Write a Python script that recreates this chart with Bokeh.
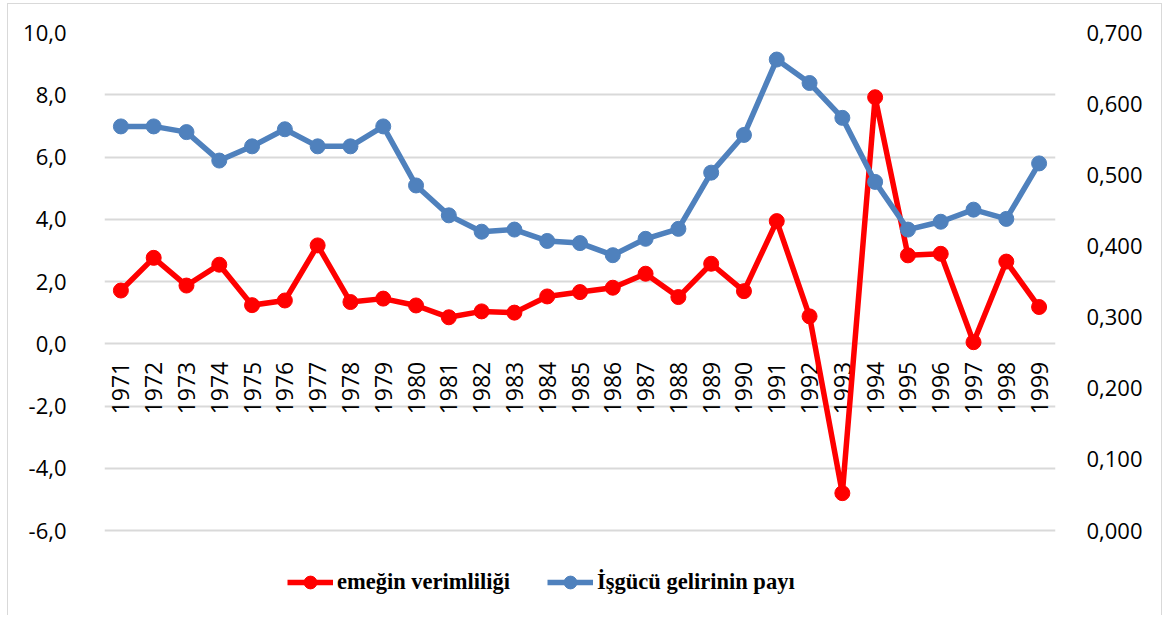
from math import pi
from bokeh.plotting import figure
from bokeh.models import (Range1d, LinearAxis, FixedTicker, CustomJSTickFormatter,
                          Legend, LegendItem, ColumnDataSource)
from bokeh.core.properties import value
from bokeh.embed import file_html
from bokeh.resources import INLINE

years = list(range(1971, 2000))
year_labels = [str(y) for y in years]
verimlilik = [1.71, 2.76, 1.87, 2.54, 1.24, 1.39, 3.16, 1.34, 1.45, 1.23,
              0.85, 1.04, 1.00, 1.52, 1.66, 1.80, 2.25, 1.50, 2.57, 1.69,
              3.94, 0.88, -4.80, 7.92, 2.84, 2.89, 0.05, 2.64, 1.18]
pay = [0.568, 0.568, 0.560, 0.520, 0.540, 0.564, 0.540, 0.540, 0.568, 0.485,
       0.443, 0.420, 0.423, 0.407, 0.404, 0.387, 0.410, 0.424, 0.503, 0.556,
       0.662, 0.629, 0.580, 0.490, 0.423, 0.434, 0.451, 0.438, 0.516]
left_ticks = [-6, -4, -2, 0, 2, 4, 6, 8, 10]
right_ticks = [0.0, 0.1, 0.2, 0.3, 0.4, 0.5, 0.6, 0.7]
series_names = ["emeğin verimliliği", "İşgücü gelirinin payı"]

RED = "#FF0000"
BLUE = "#4F81BD"
GRID = "#d9d9d9"
FONT = "Open Sans"

# layout: tick area is 498 px tall; frame extends 72 px further down to hold the legend
TICK_PX = 498.0
EXTRA_PX = 72.0
left_lo, left_hi = -6.0, 10.0
right_lo, right_hi = 0.0, 0.7
left_start = left_lo - (left_hi - left_lo) * EXTRA_PX / TICK_PX
right_start = right_lo - (right_hi - right_lo) * EXTRA_PX / TICK_PX

p = figure(width=1155, height=612, output_backend="svg", toolbar_location=None,
           x_range=Range1d(1970.5, 1999.5), y_range=Range1d(left_start, left_hi),
           x_axis_location=None, min_border_left=96, min_border_right=108,
           min_border_top=28, min_border_bottom=14)
p.styles = {"border": "1px solid #d9d9d9", "border-bottom": "none",
            "margin-left": "7px", "margin-top": "3px"}
p.outline_line_color = None
p.background_fill_color = "white"
p.border_fill_color = "white"
p.extra_y_ranges = {"share": Range1d(right_start, right_hi)}

p.yaxis.ticker = FixedTicker(ticks=left_ticks)
p.yaxis.formatter = CustomJSTickFormatter(code="return tick.toFixed(1).replace('.', ',');")
p.yaxis.axis_line_color = None
p.yaxis.major_tick_line_color = None
p.yaxis.minor_tick_line_color = None
p.yaxis.major_label_standoff = 32
p.yaxis.major_label_text_font = FONT
p.yaxis.major_label_text_font_size = "22px"
p.yaxis.major_label_text_color = "black"

rax = LinearAxis(y_range_name="share", ticker=FixedTicker(ticks=right_ticks),
                 formatter=CustomJSTickFormatter(code="return tick.toFixed(3).replace('.', ',');"))
rax.axis_line_color = None
rax.major_tick_line_color = None
rax.minor_tick_line_color = None
rax.major_label_standoff = 25
rax.major_label_text_font = FONT
rax.major_label_text_font_size = "22px"
rax.major_label_text_color = "black"
p.add_layout(rax, "right")

p.xgrid.visible = False
p.ygrid.grid_line_color = GRID
p.ygrid.grid_line_width = 2

src = ColumnDataSource(dict(x=years, v=verimlilik, s=pay, lab=year_labels,
                            zero=[0] * len(years)))

p.text(x="x", y="zero", text="lab", source=src, angle=pi / 2, text_align="right",
       text_baseline="middle", y_offset=18, text_font=value(FONT),
       text_font_size="23px", text_color="black")

r1l = p.line("x", "v", source=src, line_color=RED, line_width=5.5)
r1m = p.scatter("x", "v", source=src, size=15, fill_color=RED, line_color=RED)
r2l = p.line("x", "s", source=src, y_range_name="share", line_color=BLUE, line_width=5.5)
r2m = p.scatter("x", "s", source=src, y_range_name="share", size=15,
                fill_color=BLUE, line_color=BLUE)

legend = Legend(items=[LegendItem(label=series_names[0], renderers=[r1l, r1m]),
                       LegendItem(label=series_names[1], renderers=[r2l, r2m])],
                orientation="horizontal", location=(183, 4),
                label_text_font="Liberation Serif", label_text_font_style="bold",
                label_text_font_size="22.5px", label_text_color="black",
                glyph_width=46, glyph_height=32, label_height=32, label_standoff=4,
                spacing=37, padding=0, margin=0, border_line_color=None,
                background_fill_alpha=0)
p.add_layout(legend, "center")

open("out.html", "w").write(file_html(p, INLINE))
